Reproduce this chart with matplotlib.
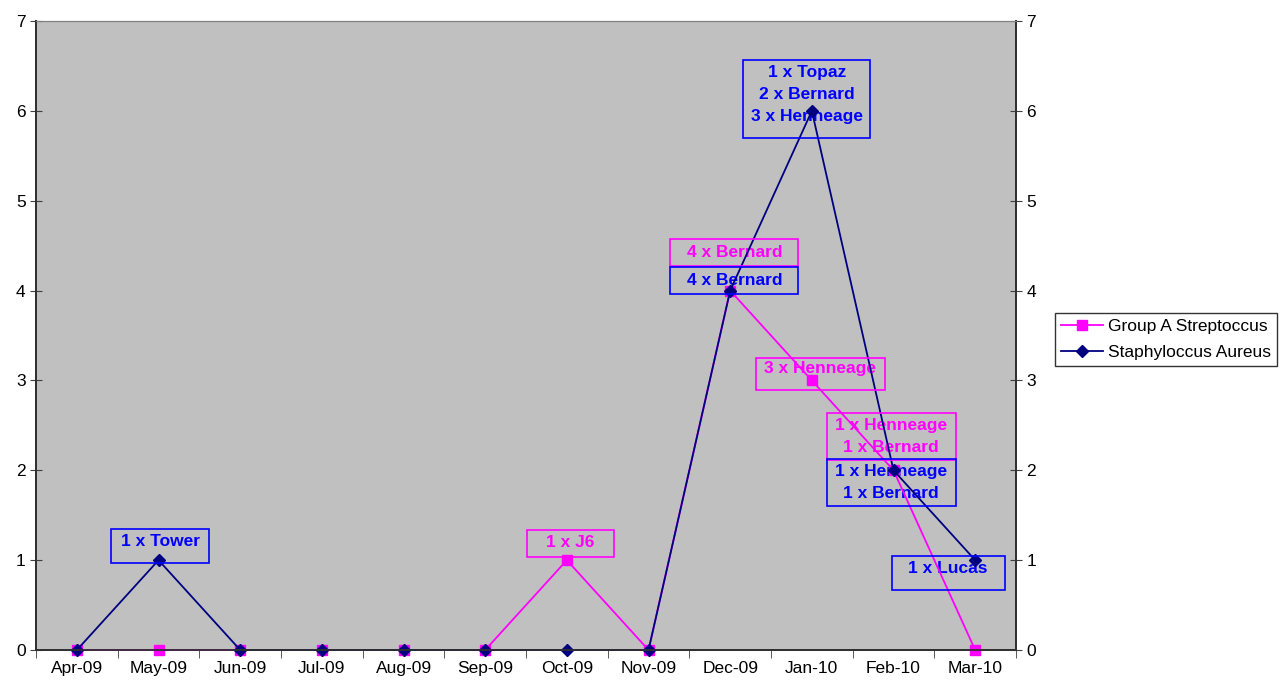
import matplotlib.pyplot as plt
from matplotlib.patches import Rectangle
from matplotlib.transforms import IdentityTransform
import numpy as np

plt.rcParams['font.family'] = ['Liberation Sans', 'DejaVu Sans']

MONTHS = ["Apr-09", "May-09", "Jun-09", "Jul-09", "Aug-09", "Sep-09",
          "Oct-09", "Nov-09", "Dec-09", "Jan-10", "Feb-10", "Mar-10"]
STREP = [0, 0, 0, 0, 0, 0, 1, 0, 4, 3, 2, 0]
STAPH = [0, 1, 0, 0, 0, 0, 0, 0, 4, 6, 2, 1]

# (month index, text, x shift, y shift) -- shifts in data units
STREP_LABELS = [(6, "1 x J6", 0.04, 0.20),
                (8, "4 x Bernard", 0.05, 0.42),
                (9, "3 x Henneage", 0.10, 0.13),
                (10, "1 x Henneage\n1 x Bernard", -0.03, 0.38)]
STAPH_LABELS = [(1, "1 x Tower", 0.02, 0.21),
                (8, "4 x Bernard", 0.05, 0.11),
                (9, "1 x Topaz\n2 x Bernard\n3 x Henneage", -0.06, 0.185),
                (10, "1 x Henneage\n1 x Bernard", -0.03, -0.14),
                (11, "1 x Lucas", -0.33, -0.09)]
# frame size (w, h) and vertical frame shift, in pixels
STREP_BOXES = [(87, 27, -1), (128, 27, 0), (129, 32, -5), (129, 47, 0)]
STAPH_BOXES = [(98, 34, -5), (128, 27, 0), (127, 78, -5), (129, 47, 0), (113, 34, -5)]

PINK = "#FF00FF"
NAVY = "#000080"
BLUE = "#0000FF"
FS = 12.5

fig = plt.figure(figsize=(12.83, 6.84), dpi=100)
ax = fig.add_axes([0.0281, 0.0497, 0.7638, 0.9196])
ax.set_facecolor("#C0C0C0")

x = np.arange(len(MONTHS))
ax.plot(x, STREP, color=PINK, lw=1.3, marker="s", ms=7, mec=PINK,
        label="Group A Streptoccus", zorder=3, clip_on=False)
ax.plot(x, STAPH, color=NAVY, lw=1.3, marker="D", ms=6.5, mec=NAVY,
        label="Staphyloccus Aureus", zorder=4, clip_on=False)

ax.set_xlim(-0.5, len(MONTHS) - 0.5)
ax.set_ylim(0, 7)
ax.set_xticks(x)
ax.set_xticklabels(MONTHS, fontsize=FS)
ax.set_xticks(np.arange(-0.5, len(MONTHS)), minor=True)
ax.tick_params(axis="x", which="major", length=0, pad=8)
ax.tick_params(axis="x", which="minor", length=6, direction="out", color="#404040")
ax.set_yticks(range(8))
ax.tick_params(axis="y", direction="inout", length=8, labelsize=FS, color="#404040")

ax2 = ax.twinx()
ax2.set_ylim(0, 7)
ax2.set_yticks(range(8))
ax2.tick_params(axis="y", direction="inout", length=8, labelsize=FS, color="#404040")

for a in (ax, ax2):
    a.spines["top"].set_color("#808080")
    for side in ("left", "right", "bottom"):
        a.spines[side].set_color("#303030")
        a.spines[side].set_linewidth(1.3)


def add_labels(labels, boxes, values, color):
    for (i, txt, dx, dy), (w, h, sh) in zip(labels, boxes):
        tx, ty = i + dx, values[i] + dy
        ax.text(tx, ty, txt, color=color, fontsize=FS, fontweight="bold",
                ha="center", va="center", linespacing=1.6, zorder=2)
        cx, cy = ax.transData.transform((tx, ty))
        cy += sh
        frame = Rectangle((cx - w / 2, cy - h / 2), w, h, fill=False,
                          ec=color, lw=1.2, transform=IdentityTransform(),
                          zorder=2)
        fig.add_artist(frame)


add_labels(STREP_LABELS, STREP_BOXES, STREP, PINK)
add_labels(STAPH_LABELS, STAPH_BOXES, STAPH, BLUE)

leg = ax.legend(loc="center left", bbox_to_anchor=(1.04, 0.494), fontsize=FS,
                frameon=True, fancybox=False, edgecolor="black", handlelength=2.4,
                borderpad=0.35, labelspacing=0.6, handletextpad=0.3,
                borderaxespad=0)
leg.get_frame().set_linewidth(1.0)

fig.savefig("out.png", dpi=100)
